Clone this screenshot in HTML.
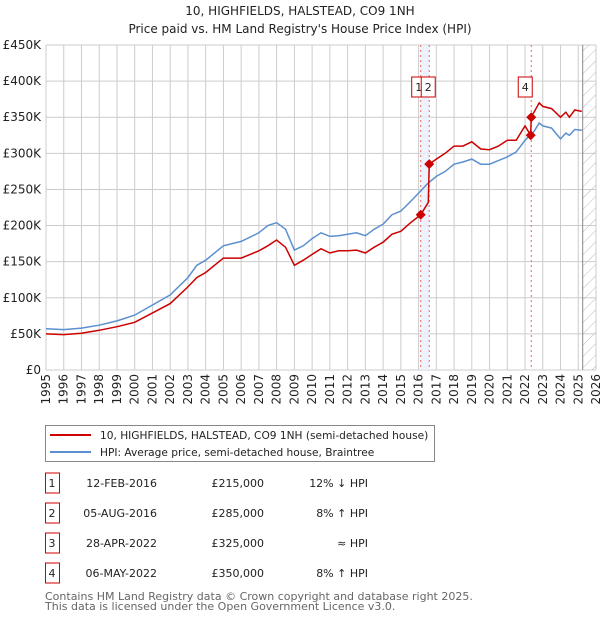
<!DOCTYPE html>
<html><head><meta charset="utf-8"><style>
body{margin:0;background:#fff;font-family:"DejaVu Sans","Liberation Sans",sans-serif;}
#root{position:relative;width:600px;height:620px;overflow:hidden}
</style></head><body><div id="root">
<svg id="svg" width="600" height="620" xmlns="http://www.w3.org/2000/svg" font-family="DejaVu Sans, Liberation Sans, sans-serif">
<defs><pattern id="hatch" width="8" height="8" patternUnits="userSpaceOnUse" patternTransform="rotate(45)"><line x1="0" y1="0" x2="0" y2="8" stroke="#bbb" stroke-width="1"/></pattern></defs>
<text x="300" y="15" text-anchor="middle" font-size="12" fill="#222">10, HIGHFIELDS, HALSTEAD, CO9 1NH</text>
<text x="300" y="33" text-anchor="middle" font-size="12" fill="#222">Price paid vs. HM Land Registry's House Price Index (HPI)</text>
<g id="grid"></g><g id="marks"></g><g id="axes"></g>
<g>
<rect x="45.5" y="425.5" width="389" height="36" fill="#fff" stroke="#888"/>
<line x1="50" y1="435" x2="91" y2="435" stroke="#cc0000" stroke-width="2"/>
<text x="100" y="439" font-size="10.6" fill="#222">10, HIGHFIELDS, HALSTEAD, CO9 1NH (semi-detached house)</text>
<line x1="50" y1="452" x2="91" y2="452" stroke="#5b8fd0" stroke-width="2"/>
<text x="100" y="456" font-size="10.6" fill="#222">HPI: Average price, semi-detached house, Braintree</text>
</g>
<g id="table" font-size="11" fill="#222"></g>
<text x="45" y="600" font-size="11" fill="#666">Contains HM Land Registry data © Crown copyright and database right 2025.</text>
<text x="45" y="610" font-size="11" fill="#666">This data is licensed under the Open Government Licence v3.0.</text>
</svg></div>
<script>
const hpiYears=[1995,1996,1997,1998,1999,2000,2001,2002,2003,2003.5,2004,2005,2006,2007,2007.5,2008,2008.5,2009,2009.5,2010,2010.5,2011,2011.5,2012,2012.5,2013,2013.5,2014,2014.5,2015,2015.5,2016,2016.5,2017,2017.5,2018,2018.5,2019,2019.5,2020,2020.5,2021,2021.5,2022,2022.5,2022.8,2023,2023.5,2024,2024.3,2024.5,2024.8,2025.2];
const hpiValues=[57,56,58,62,68,76,90,104,128,145,152,172,178,190,200,204,195,166,172,182,190,185,186,188,190,186,195,202,215,220,232,245,258,268,275,285,288,292,285,285,290,295,302,318,330,342,338,335,320,328,325,333,332];
const priceYears=[1995,1996,1997,1998,1999,2000,2001,2002,2003,2003.5,2004,2005,2006,2007,2007.5,2008,2008.5,2009,2009.5,2010,2010.5,2011,2011.5,2012,2012.5,2013,2013.5,2014,2014.5,2015,2015.5,2016.12,2016.55,2016.6,2017,2017.5,2018,2018.5,2019,2019.5,2020,2020.5,2021,2021.5,2022,2022.32,2022.35,2022.8,2023,2023.5,2024,2024.3,2024.5,2024.8,2025.2];
const priceValues=[50,49,51,55,60,66,79,92,115,128,135,155,155,165,172,180,170,145,152,160,168,162,165,165,166,162,170,177,188,192,203,215,232,285,292,300,310,310,316,306,305,310,318,318,338,325,350,370,365,362,350,357,350,360,358];
const saleLabels=["1","2","3","4"];
const saleYears=[2016.12,2016.6,2022.32,2022.35];
const saleValues=[215,285,325,350];
const saleDates=["12-FEB-2016","05-AUG-2016","28-APR-2022","06-MAY-2022"];
const salePrices=["£215,000","£285,000","£325,000","£350,000"];
const saleHpi=["12% ↓ HPI","8% ↑ HPI","≈ HPI","8% ↑ HPI"];
const yTicks=[0,50,100,150,200,250,300,350,400,450];
const yTickLabels=["£0","£50K","£100K","£150K","£200K","£250K","£300K","£350K","£400K","£450K"];
const xTicks=[1995,1996,1997,1998,1999,2000,2001,2002,2003,2004,2005,2006,2007,2008,2009,2010,2011,2012,2013,2014,2015,2016,2017,2018,2019,2020,2021,2022,2023,2024,2025,2026];

const L=46,R=596,T=45,B=370;
const xs=y=>L+(y-1995)/(2026-1995)*(R-L);
const ys=v=>B-v/450*(B-T);
const NS="http://www.w3.org/2000/svg";
function mk(parent,tag,attrs){const e=document.createElementNS(NS,tag);for(const k in attrs)e.setAttribute(k,attrs[k]);document.getElementById(parent).appendChild(e);return e;}
for(let i=0;i<yTicks.length;i++){const y=ys(yTicks[i]);
 const g=mk('grid','line',{x1:L,x2:R,y1:y,y2:y,stroke:'#ccc','stroke-width':1});
 
 
 const t=mk('axes','text',{x:L-5,y:y+4,'text-anchor':'end','font-size':12,fill:'#222'});
 t.textContent=yTickLabels[i];
 
 }
for(const yr of xTicks){const x=xs(yr);
 const g=mk('grid','line',{x1:x,x2:x,y1:T,y2:B,stroke:'#ccc','stroke-width':1});
 
 
 const t=mk('axes','text',{x:0,y:0,'text-anchor':'end','font-size':12,fill:'#222',transform:`translate(${x+4},${B+4}) rotate(-90)`});
 t.textContent=yr;
 
 }
const hx=xs(2025.25);
const h=mk('marks','rect',{x:hx,y:T,width:R-hx,height:B-T,fill:'url(#hatch)'});


const hl=mk('marks','line',{x1:hx,x2:hx,y1:T,y2:B,stroke:'#888','stroke-width':1});


const sh=mk('marks','rect',{x:xs(saleYears[0]),y:T,width:xs(saleYears[1])-xs(saleYears[0]),height:B-T,fill:'#e8f0fc',opacity:0.8});


[0,1,3].forEach(i=>{const x=xs(saleYears[i]);
 const v=mk('marks','line',{x1:x,x2:x,y1:T,y2:B,stroke:'#f06060','stroke-width':1,'stroke-dasharray':'2,3'});
 
 });
function path(xa,va){return xa.map((y,i)=>(i?'L':'M')+xs(y).toFixed(1)+','+ys(va[i]).toFixed(1)).join('');}
const hp=mk('marks','path',{d:path(hpiYears,hpiValues),fill:'none',stroke:'#5b8fd0','stroke-width':1.5});


const pp=mk('marks','path',{d:path(priceYears,priceValues),fill:'none',stroke:'#cc0000','stroke-width':1.5});


saleYears.forEach((yr,i)=>{const x=xs(yr),y=ys(saleValues[i]);
 const d=mk('marks','path',{d:`M${x},${y-5}L${x+5},${y}L${x},${y+5}L${x-5},${y}Z`,fill:'#cc0000'});
 
 });
[[0,-2],[1,-1],[3,-6]].forEach(([i,off])=>{const x=xs(saleYears[i])+off;
 const r=mk('marks','rect',{x:x-7,y:77,width:14,height:20,fill:'#fff',stroke:'#cc0000','stroke-width':1});
 
 
 const t=mk('marks','text',{x:x,y:91,'text-anchor':'middle','font-size':11,fill:'#222'});
 t.textContent=saleLabels[i];
 
 });
saleLabels.forEach((lab,i)=>{const cy=483+i*30;
 const r=mk('table','rect',{x:45.5,y:cy-10,width:14,height:20,fill:'#fff',stroke:'#cc0000'});
 
 
 const cells=[[52,'middle',lab],[157,'end',saleDates[i]],[264,'end',salePrices[i]],[368,'end',saleHpi[i]]];
 cells.forEach(([x,a,s])=>{const t=mk('table','text',{x:x,y:cy+4,'text-anchor':a,'font-size':11,fill:'#222'});
  t.textContent=s;
  
  });});
</script></body></html>
